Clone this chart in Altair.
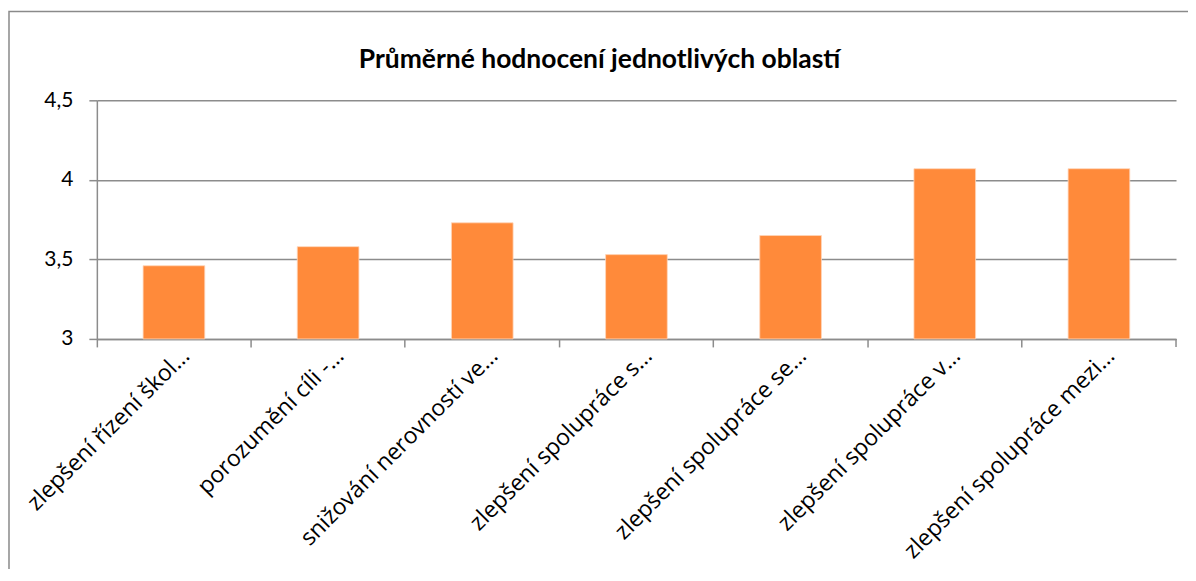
import altair as alt
import pandas as pd

categories = [
    "zlepšení řízení škol…",
    "porozumění cíli -…",
    "snižování nerovností ve…",
    "zlepšení spolupráce s…",
    "zlepšení spolupráce se…",
    "zlepšení spolupráce v…",
    "zlepšení spolupráce mezi…",
]
values = [3.46, 3.58, 3.73, 3.53, 3.65, 4.07, 4.07]
y_ticks = [3, 3.5, 4, 4.5]

df = pd.DataFrame({"cat": categories, "val": values})

W, H = 1081, 239
FONT = "Lato"
XFONT = "Open Sans"
GRAY = "#8c8c8c"

bars = alt.Chart(df).mark_bar(
    color="#FF8A3A", width=alt.RelativeBandSize(0.4), stroke="#FFD6BA", strokeWidth=0.8
).encode(
    x=alt.X("cat:N", sort=categories, title=None,
            scale=alt.Scale(paddingInner=0, paddingOuter=0),
            axis=alt.Axis(bandPosition=0, labelAngle=-45, labelAlign="right",
                          labelBaseline="middle", labelOffset=12, labelPadding=5,
                          labelFont=XFONT, labelFontSize=23, labelColor="#000000",
                          tickSize=8, tickColor=GRAY, tickWidth=1.5,
                          domainColor=GRAY, domainWidth=1.5, labelLimit=400,
                          grid=False)),
    y=alt.Y("val:Q", title=None,
            scale=alt.Scale(domain=[3, 4.5], zero=False, nice=False),
            axis=alt.Axis(values=y_ticks,
                          labelExpr="replace(format(datum.value, '~g'), '.', ',')",
                          labelFont=FONT, labelFontSize=21, labelColor="#000000",
                          labelPadding=16, tickSize=8, tickColor=GRAY, tickWidth=1.5,
                          domainColor=GRAY, domainWidth=1.5,
                          grid=True, gridColor=GRAY, gridWidth=1.5)),
    y2=alt.datum(3),
)

one = alt.Data(values=[{"k": 1}])

end_tick = alt.Chart(one).mark_rule(color=GRAY, strokeWidth=1.5).encode(
    x=alt.value(W), y=alt.value(H), y2=alt.value(H + 8)
)

border = alt.Chart(one).mark_rect(fill=None, stroke="#8a8a8a", strokeWidth=1.5).encode(
    x=alt.value(-88), x2=alt.value(W + 40), y=alt.value(-89), y2=alt.value(H + 300)
)

chart = alt.layer(border, bars, end_tick).properties(
    width=W, height=H,
    title=alt.TitleParams("Průměrné hodnocení jednotlivých oblastí",
                          font=FONT, fontSize=26.5, fontWeight="bold", color="#000000",
                          anchor="middle", frame="group", dx=-37, dy=89, offset=26),
    autosize=alt.AutoSizeParams(type="none"),
    padding={"left": 89, "top": 92, "right": 12, "bottom": 230},
).configure_view(stroke=None)

chart.save("out.html", embed_options={"renderer": "svg", "actions": False})
